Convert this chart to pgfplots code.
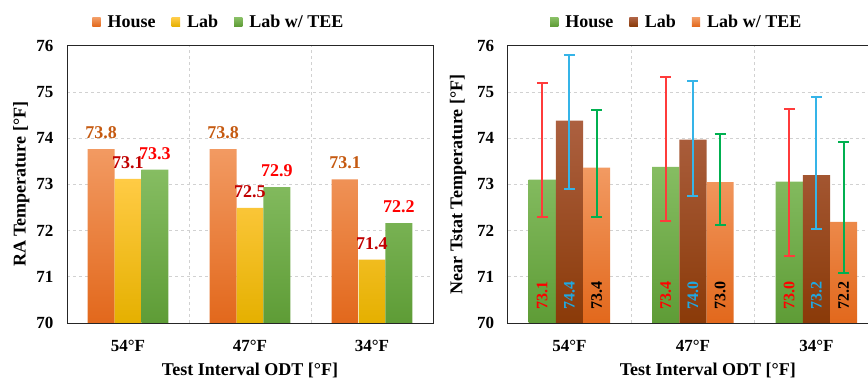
\documentclass[border=0pt]{standalone}
\usepackage{fontspec}
\setmainfont{Liberation Serif}
\usepackage{pgfplots}
\pgfplotsset{compat=1.18}
\definecolor{houseTop}{HTML}{F29A62}
\definecolor{houseBot}{HTML}{E2681C}
\definecolor{labTop}{HTML}{FFCB45}
\definecolor{labBot}{HTML}{E5B000}
\definecolor{greenTop}{HTML}{86BD62}
\definecolor{greenBot}{HTML}{5E9C36}
\definecolor{brownTop}{HTML}{AC6040}
\definecolor{brownBot}{HTML}{8A3A08}
\definecolor{lblHouse}{HTML}{C55A11}
\definecolor{lblLab}{HTML}{C00000}
\definecolor{lblTee}{HTML}{FF0000}
\definecolor{errRed}{HTML}{FF3B3B}
\definecolor{errBlue}{HTML}{35B4E8}
\definecolor{errGreen}{HTML}{00B050}
\definecolor{txtBlue}{HTML}{1FA8E2}
\pgfplotsset{
  mybase/.style={
    scale only axis, height=277.3pt,
    ymin=70, ymax=76, ytick={70,71,72,73,74,75,76},
    xmin=-0.5,
    xtick={0,1,2}, xticklabels={54°F,47°F,34°F},
    minor xtick={0.5,1.5}, xminorgrids=true, ymajorgrids=true,
    grid style={dashed, black!18, line width=0.7pt},
    minor grid style={dashed, black!18, line width=0.7pt},
    major tick length=0pt, minor tick length=0pt,
    axis line style={black!85, line width=0.9pt},
    ybar=0pt, bar width=0.22,
    ticklabel style={font=\fontsize{17}{17}\selectfont\bfseries},
    /pgf/number format/assume math mode=true,
    xticklabel style={yshift=-14pt},
    yticklabel style={xshift=-10pt},
    label style={font=\fontsize{18}{18}\selectfont\bfseries},
    xlabel={Test Interval ODT [°F]},
    legend style={draw=none, fill=none, font=\fontsize{18}{18}\selectfont\bfseries,
      legend columns=3, anchor=center,
      /tikz/every odd column/.append style={column sep=5pt},
      /tikz/every even column/.append style={column sep=14pt}},
    legend image code/.code={\path[#1, draw=none] (0pt,-4.2pt) rectangle (8.4pt,4.2pt);},
  },
  errplot/.style={forget plot, sharp plot, draw=none, mark=none, bar shift=0pt,
    error bars/.cd, y dir=both, y explicit,
    /pgfplots/every error bar/.style={draw=#1, line width=2pt, solid},
    error mark options={draw=#1, line width=2pt, mark size=5.5pt, rotate=90}},
}
\begin{document}
\begin{tikzpicture}[x=1pt,y=1pt]
\useasboundingbox (0,0) rectangle (868,380);
% ---------- left panel ----------
\begin{axis}[mybase, at={(67pt,57pt)}, anchor=south west, width=366pt, xmax=2.5,
  ylabel={RA Temperature [°F]},
  ylabel style={at={(axis description cs:-0.125,0.5)}, anchor=center},
  xlabel style={at={(axis description cs:0.5,-0.1695)}, anchor=center},
  legend style={at={(axis description cs:0.415,1.085)}},
  nodes near coords={\pgfmathprintnumber[fixed,fixed zerofill,precision=1]{\pgfplotspointmeta}},
  every node near coord/.append style={font=\fontsize{18}{18}\selectfont\bfseries, anchor=south, inner sep=0pt, yshift=10pt},
]
\addplot[draw=none, top color=houseTop, bottom color=houseBot,
  every node near coord/.append style={text=lblHouse}]
  coordinates {(0,73.76) (1,73.76) (2,73.11)};
\addplot[draw=none, top color=labTop, bottom color=labBot,
  every node near coord/.append style={text=lblLab}]
  coordinates {(0,73.12) (1,72.49) (2,71.37)};
\addplot[draw=none, top color=greenTop, bottom color=greenBot,
  every node near coord/.append style={text=lblTee}]
  coordinates {(0,73.32) (1,72.94) (2,72.16)};
\legend{House,Lab,Lab w/ TEE}
\end{axis}
% ---------- right panel ----------
\begin{axis}[mybase, at={(507.7pt,57pt)}, anchor=south west, width=370.5pt, xmax=2.5,
  ylabel={Near Tstat Temperature [°F]},
  ylabel style={at={(axis description cs:-0.134,0.5)}, anchor=center},
  xlabel style={at={(axis description cs:0.54,-0.1695)}, anchor=center},
  legend style={at={(axis description cs:0.456,1.085)}},
]
\addplot[draw=none, top color=greenTop, bottom color=greenBot]
  coordinates {(0,73.10) (1,73.38) (2,73.06)};
\addplot[draw=none, top color=brownTop, bottom color=brownBot]
  coordinates {(0,74.38) (1,73.97) (2,73.20)};
\addplot[draw=none, top color=houseTop, bottom color=houseBot]
  coordinates {(0,73.36) (1,73.05) (2,72.19)};
\legend{House,Lab,Lab w/ TEE}
\addplot[errplot=errRed]
  coordinates {(-0.22,73.10) += (0,2.10) -= (0,0.80)
               (0.78,73.38) += (0,1.95) -= (0,1.18)
               (1.78,73.06) += (0,1.57) -= (0,1.62)};
\addplot[errplot=errBlue]
  coordinates {(0,74.38) += (0,1.42) -= (0,1.48)
               (1,73.97) += (0,1.27) -= (0,1.22)
               (2,73.20) += (0,1.68) -= (0,1.17)};
\addplot[errplot=errGreen]
  coordinates {(0.22,73.36) += (0,1.24) -= (0,1.06)
               (1.22,73.05) += (0,1.04) -= (0,0.94)
               (2.22,72.19) += (0,1.73) -= (0,1.11)};
\begin{scope}[every node/.style={rotate=90, anchor=west, inner sep=0pt, font=\fontsize{16}{16}\selectfont\bfseries}]
\node[text=red] at (axis cs:-0.22,70.28) {73.1};
\node[text=red] at (axis cs:0.78,70.28) {73.4};
\node[text=red] at (axis cs:1.78,70.28) {73.0};
\node[text=txtBlue] at (axis cs:0,70.28) {74.4};
\node[text=txtBlue] at (axis cs:1,70.28) {74.0};
\node[text=txtBlue] at (axis cs:2,70.28) {73.2};
\node[text=black] at (axis cs:0.22,70.28) {73.4};
\node[text=black] at (axis cs:1.22,70.28) {73.0};
\node[text=black] at (axis cs:2.22,70.28) {72.2};
\end{scope}
\end{axis}
\end{tikzpicture}
\end{document}
